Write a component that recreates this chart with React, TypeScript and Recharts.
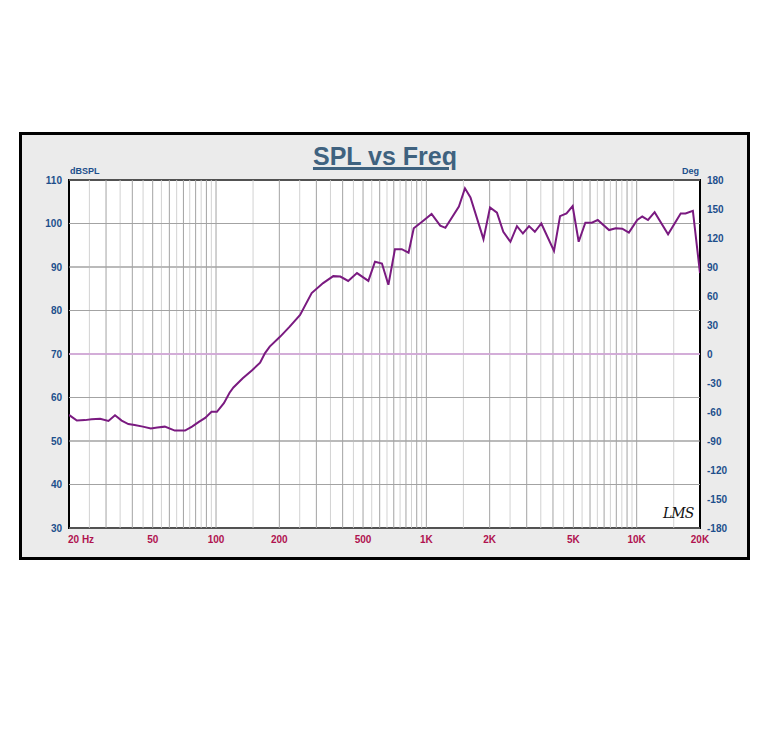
import { LineChart, Line, XAxis, YAxis, CartesianGrid, ReferenceLine, ReferenceArea } from "recharts";

const freqs = [
  20, 21.8, 23.8, 25.6, 28.1, 30.8, 33.1, 35.6, 38.3, 41, 44.9, 49, 52.6, 57.1, 63.7, 71.2, 76.9, 82.9, 88.8, 95.2,
  101, 109, 116, 121, 134, 148, 162, 171, 180, 202, 224, 251, 285, 323, 361, 390, 425, 468, 530, 570, 615, 660,
  709, 764, 823, 871, 954, 1059, 1164, 1232, 1428, 1526, 1621, 1869, 2008, 2166, 2322, 2510, 2696, 2878, 3078,
  3280, 3520, 4045, 4322, 4640, 4960, 5300, 5700, 6120, 6530, 7390, 7950, 8540, 9180, 10060, 10630, 11320, 12170,
  14100, 16190, 17070, 18500, 20000,
];
const spl = [
  56.0, 54.7, 54.8, 55.0, 55.1, 54.6, 55.9, 54.7, 53.9, 53.7, 53.3, 52.9, 53.1, 53.3, 52.4, 52.4, 53.3, 54.4, 55.3, 56.7,
  56.7, 58.7, 61.1, 62.3, 64.4, 66.2, 68.0, 70.2, 71.7, 74.0, 76.3, 79.0, 84.0, 86.3, 87.9, 87.8, 86.8, 88.6, 86.8, 91.2, 90.8, 85.9,
  94.1, 94.1, 93.3, 98.9, 100.4, 102.2, 99.5, 99.0, 103.9, 108.1, 106.0, 96.4, 103.7, 102.5, 98.1, 95.8, 99.4, 97.7, 99.4,
  98.1, 100.0, 93.7, 101.7, 102.3, 104.0, 95.8, 100.2, 100.2, 100.8, 98.5, 98.9, 98.8, 97.9, 100.8, 101.6, 100.8, 102.6,
  97.5, 102.3, 102.3, 102.9, 88.6,
];

const xTicks = [20, 50, 100, 200, 500, 1000, 2000, 5000, 10000, 20000];
const xLabels = ["20 Hz", "50", "100", "200", "500", "1K", "2K", "5K", "10K", "20K"];
const splTicks = [30, 40, 50, 60, 70, 80, 90, 100, 110];
const degTicks = [-180, -150, -120, -90, -60, -30, 0, 30, 60, 90, 120, 150, 180];

// grid steps within each decade: whole steps dark, half steps light
const decades = [10, 100, 1000, 10000];
const steps = [1, 1.5, 2, 2.5, 3, 3.5, 4, 4.5, 5, 5.5, 6, 6.5, 7, 7.5, 8, 8.5, 9, 9.5];

const majorGrid: number[] = [];
const minorGrid: number[] = [];
decades.forEach((d) =>
  steps.forEach((s) => {
    const f = d * s;
    if (f <= 20 || f >= 20000) return;
    (Number.isInteger(s) ? majorGrid : minorGrid).push(f);
  })
);

const data = freqs.map((f, i) => ({ f, spl: spl[i] }));

const BLUE = "#1d4f8c";
const RED = "#b0124f";
const FONT = "'Liberation Sans', Arial, sans-serif";

const XTick = ({ x, y, payload }: any) => {
  const i = xTicks.indexOf(payload.value);
  const first = i === 0;
  return (
    <text x={first ? x - 1 : x} y={y + 4} textAnchor={first ? "start" : "middle"} fill={RED}
      fontSize={10} fontWeight="bold" fontFamily={FONT} dominantBaseline="middle">
      {xLabels[i]}
    </text>
  );
};

const LeftTick = ({ x, y, payload }: any) => (
  <text x={x + 1} y={y + 1} textAnchor="end" fill={BLUE} fontSize={10} fontWeight="bold"
    fontFamily={FONT} dominantBaseline="middle">
    {payload.value}
  </text>
);

const RightTick = ({ x, y, payload }: any) => (
  <text x={x - 1} y={y + 1} textAnchor="start" fill={BLUE} fontSize={10} fontWeight="bold"
    fontFamily={FONT} dominantBaseline="middle">
    {payload.value}
  </text>
);

export default function App() {
  return (
    <div style={{ position: "absolute", left: 0, top: 0, width: 764, height: 748, background: "#fff" }}>
      <div
        style={{
          position: "absolute",
          left: 19,
          top: 132,
          width: 725,
          height: 422,
          border: "3px solid #000",
          background: "#ebebeb",
        }}
      />
      <div
        style={{
          position: "absolute",
          left: 0,
          width: 770,
          top: 142,
          textAlign: "center",
          fontFamily: FONT,
          fontWeight: "bold",
          fontSize: 25,
          color: "#3f627f",
          textDecoration: "underline",
          textDecorationThickness: 3,
        }}
      >
        SPL vs Freq
      </div>
      <div style={{ position: "absolute", left: 70, top: 166, fontFamily: FONT, fontWeight: "bold", fontSize: 9, color: BLUE }}>
        dBSPL
      </div>
      <div style={{ position: "absolute", left: 682, top: 166, fontFamily: FONT, fontWeight: "bold", fontSize: 9, color: BLUE }}>
        Deg
      </div>
      <div style={{ position: "absolute", left: 0, top: 0 }}>
        <LineChart width={764} height={748} data={data} margin={{ top: 180, left: 39, right: 34, bottom: 200 }}>
          <CartesianGrid yAxisId="spl" horizontal vertical={false} stroke="#a3a3a3" fill="#fff" fillOpacity={1} />
          <XAxis
            dataKey="f"
            type="number"
            scale="log"
            domain={[20, 20000]}
            ticks={xTicks}
            tick={<XTick />}
            tickLine={false}
            axisLine={false}
            height={20}
            allowDataOverflow
          />
          <YAxis
            yAxisId="spl"
            domain={[30, 110]}
            ticks={splTicks}
            tick={<LeftTick />}
            tickLine={false}
            axisLine={false}
            width={30}
            allowDataOverflow
          />
          <YAxis
            yAxisId="deg"
            orientation="right"
            type="number"
            domain={[-180, 180]}
            ticks={degTicks}
            tick={<RightTick />}
            tickLine={false}
            axisLine={false}
            width={30}
            allowDataOverflow
          />
          {minorGrid.map((f) => (
            <ReferenceLine key={"m" + f} x={f} yAxisId="spl" stroke="#d2d2d2" strokeWidth={1} />
          ))}
          {majorGrid.map((f) => (
            <ReferenceLine key={"M" + f} x={f} yAxisId="spl" stroke="#a3a3a3" strokeWidth={1} />
          ))}
          {splTicks.map((t) => (
            <ReferenceLine key={"h" + t} y={t} yAxisId="spl" stroke="#a3a3a3" strokeWidth={1} />
          ))}
          <ReferenceLine y={70} yAxisId="spl" stroke="#dba8e2" strokeWidth={1.5} />
          <Line
            yAxisId="spl"
            dataKey="spl"
            type="linear"
            stroke="#7a1a80"
            strokeWidth={2}
            dot={false}
            isAnimationActive={false}
          />
          <ReferenceArea
            yAxisId="spl"
            x1={20}
            x2={20000}
            y1={30}
            y2={110}
            fill="none"
            stroke="#000"
            strokeWidth={2}
          />
        </LineChart>
      </div>
      <div
        style={{
          position: "absolute",
          left: 663,
          top: 505,
          fontFamily: "'DejaVu Serif', serif",
          fontStyle: "italic",
          fontSize: 14,
          color: "#111",
          letterSpacing: -1,
        }}
      >
        LMS
      </div>
    </div>
  );
}
